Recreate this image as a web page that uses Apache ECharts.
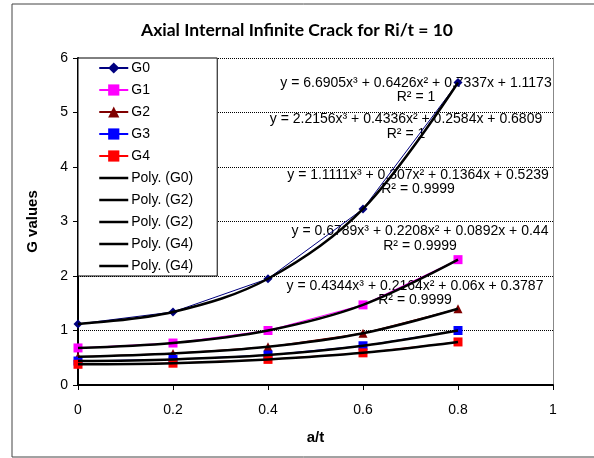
<!DOCTYPE html>
<html>
<head>
<meta charset="utf-8">
<title>Axial Internal Infinite Crack for Ri/t = 10</title>
<script src="https://cdn.jsdelivr.net/npm/echarts@6/dist/echarts.min.js"></script>
<style>
  html, body { margin: 0; padding: 0; background: #fff; }
  #chart { width: 594px; height: 458px; }
</style>
</head>
<body>
<div id="chart"></div>
<script>
// crack depth ratio a/t
const xValues = [0, 0.2, 0.4, 0.6, 0.8];

// influence coefficients G0..G4
const g0 = [1.12, 1.34, 1.95, 3.23, 5.55];
const g1 = [0.68, 0.77, 1.00, 1.47, 2.30];
const g2 = [0.52, 0.58, 0.70, 0.95, 1.40];
const g3 = [0.44, 0.47, 0.55, 0.72, 1.00];
const g4 = [0.38, 0.40, 0.47, 0.59, 0.79];

const seriesNames = ['G0', 'G1', 'G2', 'G3', 'G4'];
const trendNames = ['Poly. (G0)', 'Poly. (G1)', 'Poly. (G2)', 'Poly. (G3)', 'Poly. (G4)'];
const trendLegendLabels = ['Poly. (G0)', 'Poly. (G2)', 'Poly. (G2)', 'Poly. (G4)', 'Poly. (G4)'];

// fitted cubic trendline equations
const equations = [
  'y = 6.6905x³ + 0.6426x² + 0.7337x + 1.1173',
  'y = 2.2156x³ + 0.4336x² + 0.2584x + 0.6809',
  'y = 1.1111x³ + 0.307x² + 0.1364x + 0.5239',
  'y = 0.6789x³ + 0.2208x² + 0.0892x + 0.44',
  'y = 0.4344x³ + 0.2164x² + 0.06x + 0.3787'
];
const rSquared = ['R² = 1', 'R² = 1', 'R² = 0.9999', 'R² = 0.9999', 'R² = 0.9999'];

const allValues = [g0, g1, g2, g3, g4];
const colors = ['#000080', '#FF00FF', '#800000', '#0000FF', '#FF0000'];
const symbols = ['diamond', 'rect', 'triangle', 'rect', 'rect'];
const symbolSizes = [9, 9, 9, 9, 9];

const FONT = '"Liberation Sans", Arial, sans-serif';

const pairs = vals => xValues.map((x, i) => [x, vals[i]]);

// black trendlines drawn over the coloured series lines
const trendSeries = allValues.map((vals, i) => ({
  name: trendNames[i],
  type: 'line',
  data: pairs(vals),
  smooth: 0.35,
  symbol: 'none',
  z: 3,
  lineStyle: { color: '#000', width: 2.5 },
  itemStyle: { color: '#000' },
  silent: true
}));

const dataSeries = allValues.map((vals, i) => ({
  name: seriesNames[i],
  type: 'line',
  data: pairs(vals),
  symbol: symbols[i],
  symbolSize: symbolSizes[i],
  z: 2,
  lineStyle: { color: colors[i], width: 1 },
  itemStyle: { color: colors[i] }
}));

// equation boxes: centre x, first line y, R² line y
const eqPlaces = [
  [416, 83, 97],
  [406, 119, 134],
  [418, 175, 189],
  [420, 231, 246],
  [415, 286, 300]
];

// equation labels sit beneath the plotted curves
const eqGraphics = [];
equations.forEach((eq, i) => {
  const [cx, y1, y2] = eqPlaces[i];
  eqGraphics.push({
    type: 'text', z: 1, silent: true,
    style: { text: eq, x: cx, y: y1, align: 'center', verticalAlign: 'middle',
             font: '14px ' + FONT, fill: '#000' }
  });
  eqGraphics.push({
    type: 'text', z: 1, silent: true,
    style: { text: rSquared[i], x: cx, y: y2, align: 'center', verticalAlign: 'middle',
             font: '14px ' + FONT, fill: '#000' }
  });
});

// legend entries: trendlines show a plain line (symbol hidden)
const legendData = seriesNames.map(n => ({ name: n })).concat(
  trendNames.map(n => ({ name: n, itemStyle: { opacity: 0 }, lineStyle: { width: 2.5 } }))
);

const chart = echarts.init(document.getElementById('chart'), null, { renderer: 'canvas' });

chart.setOption({
  animation: false,
  backgroundColor: '#fff',
  title: {
    text: 'Axial Internal Infinite Crack for Ri/t = 10',
    left: 'center',
    top: 16,
    textStyle: { fontFamily: 'Lato, "Open Sans", sans-serif', fontWeight: 'bold', fontSize: 17.5, color: '#000' }
  },
  grid: { left: 78, right: 41, top: 58, bottom: 73 },
  legend: {
    orient: 'vertical',
    left: 78,
    top: 58,
    data: legendData,
    formatter: name => {
      const k = trendNames.indexOf(name);
      return k >= 0 ? trendLegendLabels[k] : name;
    },
    selectedMode: false,
    backgroundColor: '#fff',
    borderColor: '#000',
    borderWidth: 1,
    borderRadius: 0,
    padding: [3, 24, 3, 20],
    itemWidth: 29,
    itemHeight: 14,
    itemGap: 8,
    textStyle: { fontFamily: FONT, fontSize: 14, color: '#000', padding: [0, 0, 0, -2] },
    z: 50
  },
  xAxis: {
    type: 'value',
    min: 0, max: 1, interval: 0.2,
    name: 'a/t',
    nameLocation: 'middle',
    nameGap: 45,
    nameTextStyle: { fontFamily: FONT, fontWeight: 'bold', fontSize: 15, color: '#000' },
    axisLine: { show: true, lineStyle: { color: '#000', width: 2 } },
    axisTick: { show: true, length: 5, lineStyle: { color: '#000', width: 1 } },
    axisLabel: { fontFamily: FONT, fontSize: 14, color: '#000', margin: 18 },
    splitLine: { show: false }
  },
  yAxis: [{
    type: 'value',
    min: 0, max: 6, interval: 1,
    name: 'G values',
    nameLocation: 'middle',
    nameGap: 38,
    nameTextStyle: { fontFamily: FONT, fontWeight: 'bold', fontSize: 15, color: '#000' },
    axisLine: { show: true, lineStyle: { color: '#000', width: 2 } },
    axisTick: { show: true, length: 5, lineStyle: { color: '#000', width: 1 } },
    axisLabel: { fontFamily: FONT, fontSize: 14, color: '#000', margin: 10 },
    splitLine: { show: true, lineStyle: { color: '#000', width: 1, type: [1, 1] } }
  }, {
    type: 'value',
    position: 'right',
    min: 0, max: 6, interval: 1,
    axisLine: { show: true, lineStyle: { color: '#888', width: 1 } },
    axisTick: { show: false },
    axisLabel: { show: false },
    splitLine: { show: false }
  }],
  series: trendSeries.concat(dataSeries),
  graphic: [
    {
      type: 'rect', z: 0, silent: true,
      shape: { x: 12, y: 4, width: 620, height: 453 },
      style: { fill: 'none', stroke: '#444', lineWidth: 1 }
    }
  ].concat(eqGraphics)
});
</script>
</body>
</html>
